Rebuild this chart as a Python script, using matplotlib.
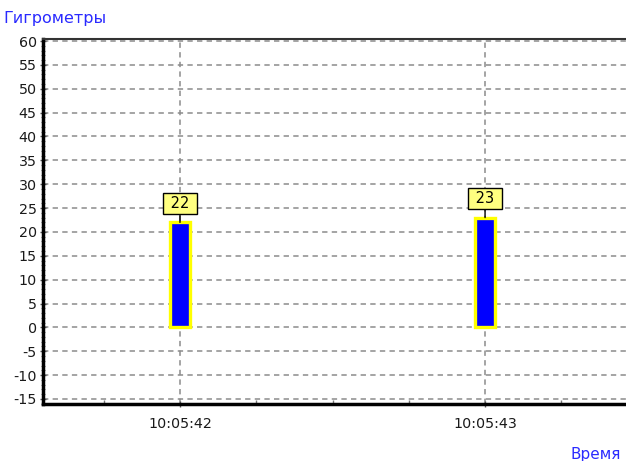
import matplotlib.pyplot as plt
from matplotlib.ticker import MultipleLocator

# data
times = ["10:05:42", "10:05:43"]
values = [22, 23]
title = "Гигрометры"
xlabel = "Время"

plt.rcParams['axes.unicode_minus'] = False
plt.rcParams['font.family'] = ['DejaVu Sans']

fig = plt.figure(figsize=(6.26, 4.61), dpi=100)
ax = fig.add_axes([43 / 626, 1 - 404 / 461, 1 - 43 / 626, 365 / 461])

pos = list(range(len(times)))
ax.bar(pos, values, width=0.068, color='#0000ff', edgecolor='#ffff00',
       linewidth=2.4, zorder=3)

# value labels in boxes above the bars
for x, v in zip(pos, values):
    ax.annotate(f" {v} ", xy=(x, v), xytext=(0, 19), textcoords='offset pixels',
                ha='center', va='center', fontsize=10.5,
                bbox=dict(boxstyle='square,pad=0.22', fc='#ffff80', ec='black', lw=1),
                arrowprops=dict(arrowstyle='-', color='black', lw=1,
                                shrinkA=0, shrinkB=0),
                zorder=4)

ax.set_xlim(-0.449, 1.462)
ax.set_ylim(-16.05, 60.42)
ax.set_xticks(pos)
ax.set_xticklabels(times)
ax.xaxis.set_minor_locator(MultipleLocator(0.25))
ax.yaxis.set_major_locator(MultipleLocator(5))
ax.yaxis.set_minor_locator(MultipleLocator(1))

ax.grid(True, which='major', color='#8c8c8c', linestyle=(0, (3.5, 2.8)), linewidth=1.1, zorder=1)
ax.set_axisbelow(True)

ax.tick_params(axis='both', which='major', labelsize=10.3, length=5, width=1,
               color='#555555', labelcolor='#1a1a1a', direction='inout')
ax.tick_params(axis='y', which='minor', length=3, width=0.8, color='#777777', direction='inout')
ax.tick_params(axis='x', which='minor', length=3, width=1, color='#777777', direction='in')
ax.tick_params(axis='x', which='major', pad=7)
ax.tick_params(axis='y', which='major', pad=2)

ax.spines['left'].set_linewidth(2.5)
ax.spines['bottom'].set_linewidth(2.5)
ax.spines['top'].set_linewidth(1.5)
ax.spines['top'].set_color('#333333')
ax.spines['right'].set_visible(False)

fig.text(3 / 626, 1 - 19 / 461, title, color='#2a2aff', fontsize=11.5,
         va='center', ha='left')
fig.text(621 / 626, 1 - 454 / 461, xlabel, color='#2a2aff', fontsize=11,
         va='center', ha='right')

fig.savefig('out.png', dpi=100)
